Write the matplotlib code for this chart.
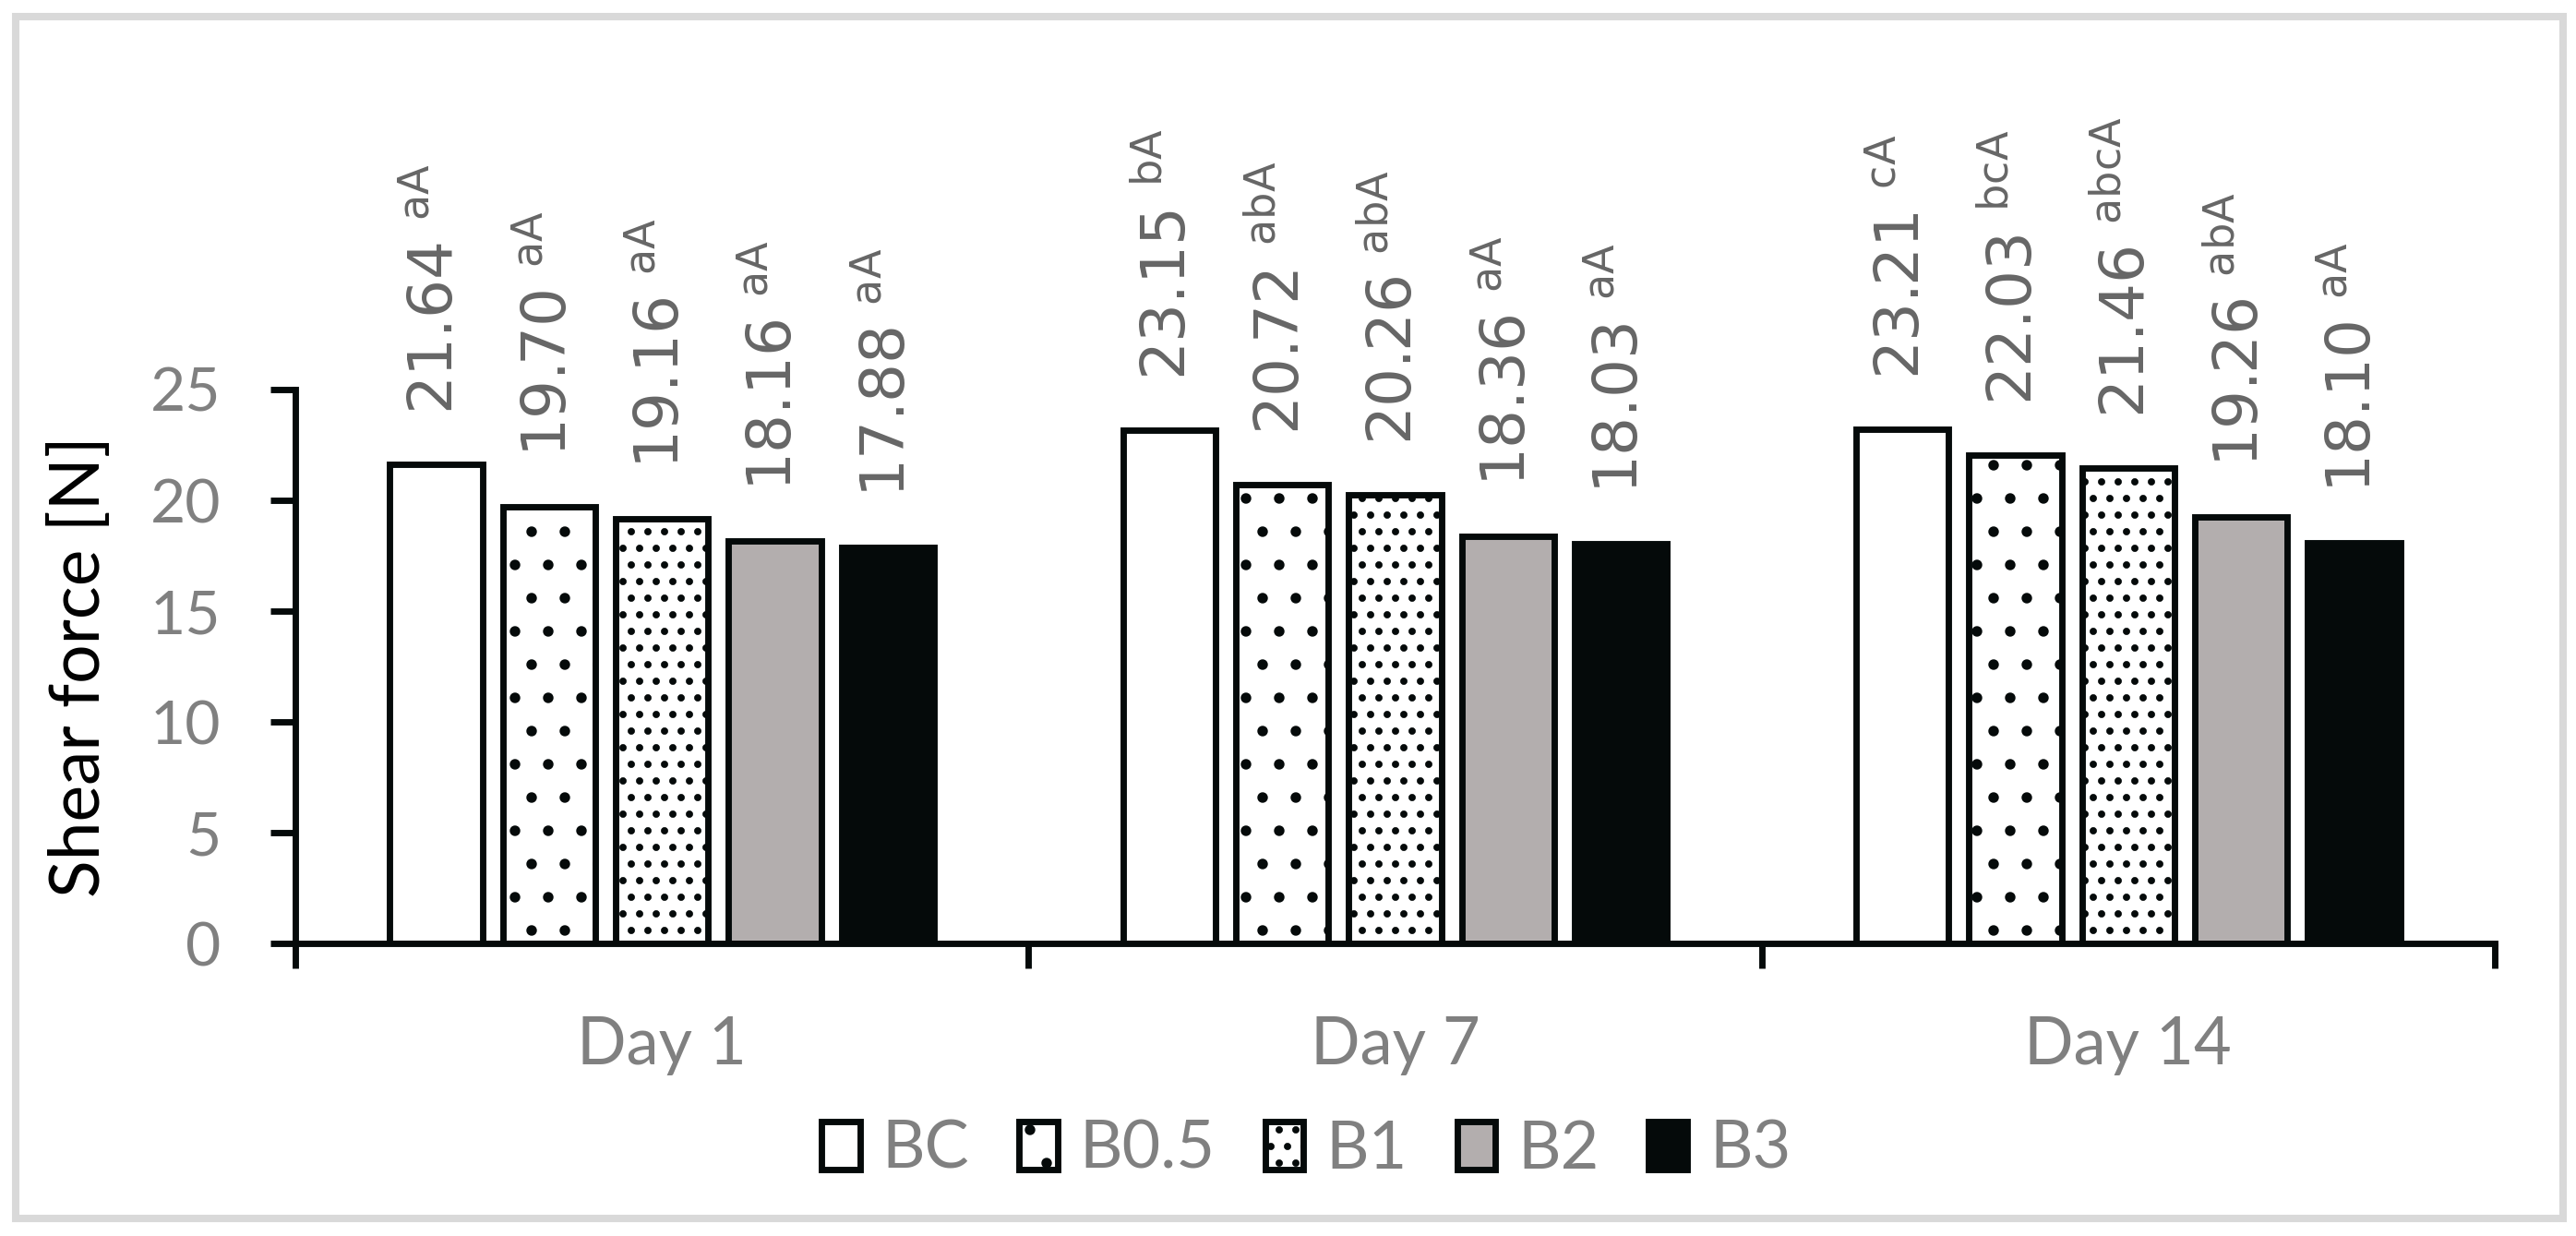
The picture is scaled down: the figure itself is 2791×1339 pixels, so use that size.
import numpy as np
import matplotlib.pyplot as plt
from matplotlib.patches import Rectangle

days = ['Day 1', 'Day 7', 'Day 14']
treatments = ['BC', 'B0.5', 'B1', 'B2', 'B3']
shear = {
    'BC':   [21.64, 23.15, 23.21],
    'B0.5': [19.70, 20.72, 22.03],
    'B1':   [19.16, 20.26, 21.46],
    'B2':   [18.16, 18.36, 19.26],
    'B3':   [17.88, 18.03, 18.10],
}
letters = {
    'BC':   ['aA', 'bA', 'cA'],
    'B0.5': ['aA', 'abA', 'bcA'],
    'B1':   ['aA', 'abA', 'abcA'],
    'B2':   ['aA', 'aA', 'abA'],
    'B3':   ['aA', 'aA', 'aA'],
}
fills = ['white', 'white', 'white', '#b3aeae', '#050a0a']
hatches = [None, '.', '..', None, None]

plt.rcParams['hatch.linewidth'] = 1.4
edge = '#050a0a'
grey = '#808080'

fig = plt.figure(figsize=(2791 / 216, 1339 / 216), dpi=216)
ax = fig.add_axes([0.11466, 0.23674, 0.85381, 0.4481])

x = np.arange(len(days))
pitch = 0.154
width = 0.126
for i, t in enumerate(treatments):
    pos = x + (i - 2) * pitch
    ax.bar(pos, shear[t], width, color=fills[i], edgecolor=edge,
           linewidth=2.3, hatch=hatches[i], label=t)
    for xp, v, s in zip(pos, shear[t], letters[t]):
        ax.text(xp, v + 2.25, f'{v:.2f} ' + r'$^{\mathrm{' + s + '}}$',
                rotation=90, ha='center', va='bottom', fontsize=22,
                color='#666666', family='DejaVu Sans', clip_on=False)

ax.set_xlim(-0.5, 2.5)
ax.set_ylim(0, 25)
ax.set_yticks(range(0, 26, 5))
ax.set_xticks([-0.5, 0.5, 1.5, 2.5], labels=[])
ax.set_xticks(x, labels=days, minor=True)

for s in ['top', 'right']:
    ax.spines[s].set_visible(False)
for s in ['left', 'bottom']:
    ax.spines[s].set_linewidth(2.3)
    ax.spines[s].set_color(edge)

ax.tick_params(axis='both', which='major', length=9, width=2.3, color=edge)
ax.tick_params(axis='y', labelsize=22, labelcolor=grey, pad=18)
ax.tick_params(axis='x', which='minor', length=0, pad=26,
               labelsize=23.5, labelcolor=grey)
for lab in ax.get_xticklabels(minor=True) + ax.get_yticklabels():
    lab.set_family('Lato')

ax.set_ylabel('Shear force [N]', fontsize=25, family='Lato', color='black',
              labelpad=14)

fig.legend(loc='center', bbox_to_anchor=(0.507, 0.070), ncol=5,
           frameon=False, prop={'family': 'Lato', 'size': 24},
           labelcolor=grey, handlelength=0.58, handleheight=0.74,
           handletextpad=0.33, columnspacing=0.75)

fig.patches.append(Rectangle((17 / 2791, 19 / 1339), 2760 / 2791, 1302 / 1339,
                             transform=fig.transFigure, fill=False,
                             edgecolor='#d9d9d9', linewidth=2.7))

fig.savefig('out.png', dpi=216)
